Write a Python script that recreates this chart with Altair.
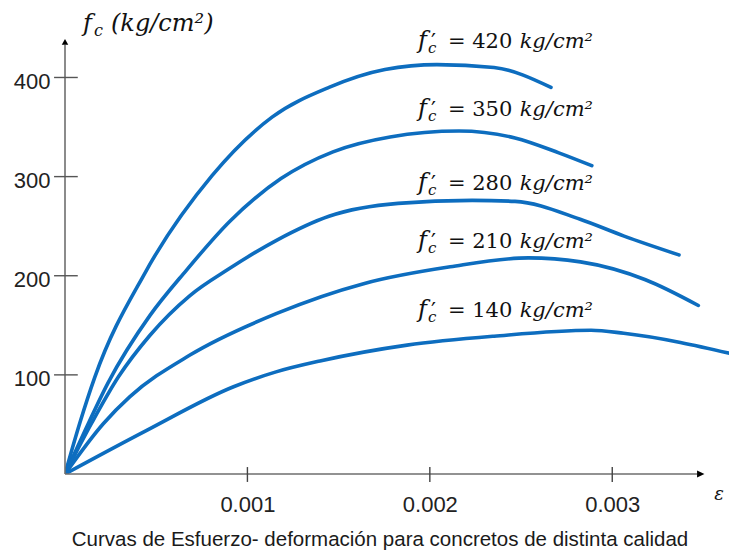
import altair as alt
import pandas as pd

# ---- data -----------------------------------------------------------------
grades = ["420", "350", "280", "210", "140"]

strain_420 = [0, 0.082e-3, 0.164e-3, 0.439e-3, 0.806e-3, 1.135e-3, 1.447e-3, 1.754e-3, 2.039e-3, 2.352e-3, 2.664e-3]
stress_420 = [0, 52, 98, 203, 301, 360, 390, 408, 413, 410, 390]

strain_350 = [0, 0.110e-3, 0.236e-3, 0.466e-3, 0.663e-3, 0.904e-3, 1.184e-3, 1.469e-3, 1.782e-3, 2.160e-3, 2.467e-3, 2.707e-3, 2.888e-3]
stress_350 = [0, 44, 92, 160, 205, 255, 298, 325, 340, 346, 339, 324, 311]

strain_280 = [0, 0.148e-3, 0.293e-3, 0.466e-3, 0.685e-3, 0.899e-3, 1.162e-3, 1.447e-3, 1.826e-3, 2.232e-3, 2.467e-3, 2.824e-3, 3.065e-3, 3.366e-3]
stress_280 = [0, 52, 98, 140, 180, 207, 236, 260, 273, 276, 275, 257, 240, 221]

strain_210 = [0, 0.211e-3, 0.356e-3, 0.685e-3, 1.161e-3, 1.637e-3, 2.112e-3, 2.541e-3, 2.826e-3, 3.182e-3, 3.472e-3]
stress_210 = [0, 51, 78, 120, 162, 192, 209, 218, 214, 196, 170]

strain_140 = [0, 0.448e-3, 0.924e-3, 1.157e-3, 1.398e-3, 1.875e-3, 2.352e-3, 2.884e-3, 3.063e-3, 3.684e-3]
stress_140 = [0, 44, 88, 103, 114, 130, 139, 145, 142, 120]

x_ticks = [0.001, 0.002, 0.003]
y_ticks = [100, 200, 300, 400]

# label anchors (strain, stress) for the f'c annotations
label_x = [1.935e-3, 1.935e-3, 1.935e-3, 1.935e-3, 1.935e-3]
label_y = [430, 361, 286, 228, 158]

caption = "Curvas de Esfuerzo- deformación para concretos de distinta calidad"

# ---- build tables ----------------------------------------------------------
series = {
    "420": (strain_420, stress_420),
    "350": (strain_350, stress_350),
    "280": (strain_280, stress_280),
    "210": (strain_210, stress_210),
    "140": (strain_140, stress_140),
}
rows = []
for g, (xs_, ys_) in series.items():
    for i, (a, b) in enumerate(zip(xs_, ys_)):
        rows.append({"grade": g, "strain": a, "stress": b, "i": i})
df = pd.DataFrame(rows)

labels = pd.DataFrame({"x": label_x, "y": label_y,
                       "num": ["= " + g for g in grades]})

BLUE = "#0d6dbf"
AX = "#6e6e6e"
SERIF = "DejaVu Serif"
SANS = "Liberation Sans"

xs = alt.Scale(domain=[0, 0.00364], nice=False, zero=False)
ys = alt.Scale(domain=[0, 460], nice=False, zero=False)

x_axis = alt.Axis(values=x_ticks, format=".3f", title=None, grid=False, domain=False,
                  ticks=False, tickSize=0, labelPadding=20, labelFont=SANS,
                  labelFontSize=22, labelColor="#222222")
y_axis = alt.Axis(values=y_ticks, title=None, grid=False, domain=False, ticks=False,
                  tickSize=0, labelPadding=15, labelFont=SANS, labelFontSize=22,
                  labelColor="#222222", labelOffset=4)


def X(field):
    return alt.X(field, scale=xs, axis=x_axis)


def Y(field):
    return alt.Y(field, scale=ys, axis=y_axis)


lines = alt.Chart(df).mark_line(
    color=BLUE, strokeWidth=3.6, interpolate="monotone", strokeCap="round", clip=True
).encode(
    x=X("strain:Q"),
    y=Y("stress:Q"),
    detail="grade:N",
    order="i:Q",
)

# axis lines
y_line = alt.Chart(pd.DataFrame({"x": [0], "y": [0], "y2": [433]})).mark_rule(
    color=AX, strokeWidth=1.6).encode(x=X("x:Q"), y=Y("y:Q"), y2="y2:Q")
x_line = alt.Chart(pd.DataFrame({"x": [0], "x2": [0.003465], "y": [0]})).mark_rule(
    color=AX, strokeWidth=1.6).encode(x=X("x:Q"), x2="x2:Q", y=Y("y:Q"))

# arrows
up_arrow = alt.Chart(pd.DataFrame({"x": [0], "y": [433]})).mark_point(
    shape="M-0.5,0L0.5,0L0,-0.9Z", filled=True, size=169, color="#000000",
    opacity=1, strokeWidth=0).encode(x=X("x:Q"), y=Y("y:Q"))
right_arrow = alt.Chart(pd.DataFrame({"x": [0.003465], "y": [0]})).mark_point(
    shape="M0,-0.5L0,0.5L1.05,0Z", filled=True, size=196, color="#000000",
    opacity=1, strokeWidth=0).encode(x=X("x:Q"), y=Y("y:Q"))

# crossing tick marks
y_tick_marks = alt.Chart(pd.DataFrame({"y": y_ticks, "x": [-0.00006] * 4, "x2": [0.00007] * 4})).mark_rule(
    color="#555555", strokeWidth=1.4).encode(x=X("x:Q"), x2="x2:Q", y=Y("y:Q"))
x_tick_marks = alt.Chart(pd.DataFrame({"x": x_ticks, "y": [-8] * 3, "y2": [7] * 3})).mark_rule(
    color="#444444", strokeWidth=1.4).encode(x=X("x:Q"), y=Y("y:Q"), y2="y2:Q")

# axis titles
ytitle = pd.DataFrame({"x": [0.0000987], "y": [447]})


def ytext(text, size, dx, dy=0, italic=True):
    return alt.Chart(ytitle).mark_text(
        text=text, font=SERIF, fontSize=size, fontStyle="italic" if italic else "normal",
        align="left", baseline="alphabetic", dx=dx, dy=dy, color="#111111").encode(
        x=X("x:Q"), y=Y("y:Q"))


yt_f = ytext("f", 24, 0)
yt_c = ytext("c", 16, 11, 5)
yt_rest = ytext("(kg/cm²)", 24, 28)

eps = alt.Chart(pd.DataFrame({"x": [0.003586], "y": [-26]})).mark_text(
    text="ε", font=SERIF, fontSize=18, fontStyle="italic", align="center",
    baseline="alphabetic", color="#111111").encode(x=X("x:Q"), y=Y("y:Q"))


# curve annotations
def ltext(size, dx, dy=0, italic=True, text=None, field=None, align="left"):
    kw = dict(font=SERIF, fontSize=size, fontStyle="italic" if italic else "normal",
              align=align, baseline="alphabetic", dx=dx, dy=dy, color="#111111")
    if text is not None:
        kw["text"] = text
    enc = dict(x=X("x:Q"), y=Y("y:Q"))
    if field is not None:
        enc["text"] = alt.Text(field + ":N")
    return alt.Chart(labels).mark_text(**kw).encode(**enc)


l_f = ltext(24, 0, text="f")
l_p = ltext(22, 13, 1, italic=False, text="′")
l_c = ltext(15, 10, 5, text="c")
l_num = ltext(21, 30, italic=False, field="num")
l_unit = ltext(21, 175, text="kg/cm²", align="right")

cap = alt.Chart(pd.DataFrame({"x": [0.001727], "y": [-73]})).mark_text(
    text=caption, font=SANS, fontSize=20.5, align="center", baseline="alphabetic",
    color="#1a1a1a").encode(x=X("x:Q"), y=Y("y:Q"))

chart = alt.layer(
    lines, x_line, y_line, up_arrow, right_arrow, y_tick_marks, x_tick_marks,
    yt_f, yt_c, yt_rest, eps, l_f, l_p, l_c, l_num, l_unit, cap
).properties(
    width=664, height=456,
    autosize=alt.AutoSizeParams(type="none"),
    padding={"left": 57, "top": 10, "right": 0, "bottom": 76},
    background="white",
).configure_view(stroke=None)

chart.save("out.html", embed_options={"renderer": "svg", "actions": False})
